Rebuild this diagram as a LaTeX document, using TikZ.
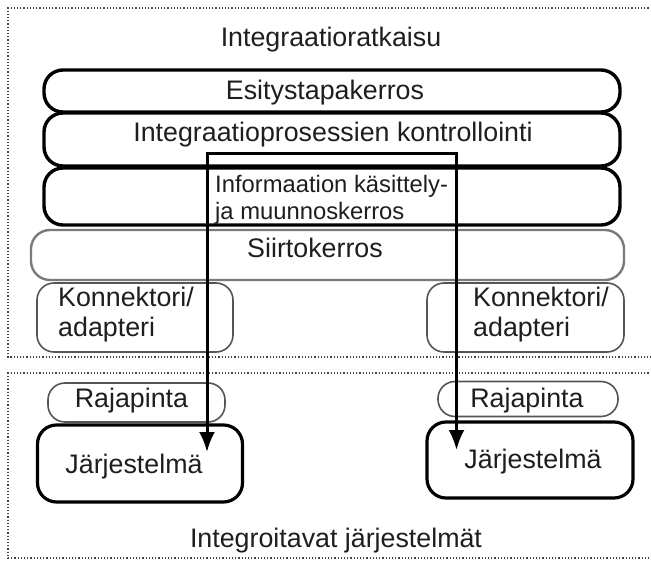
\documentclass[tikz,border=0pt]{standalone}
\usepackage{fontspec}
\setmainfont{Liberation Sans}
\usetikzlibrary{arrows.meta}

\definecolor{txt}{HTML}{1E1E1E}
\definecolor{softgray}{HTML}{7A7A7A}
\definecolor{midgray}{HTML}{555555}

\tikzset{
  frame/.style={draw=black!75, line width=1.2pt, dotted},
  boldbox/.style={draw=black, line width=3.4pt, rounded corners=19pt, inner sep=0pt},
  transportbox/.style={draw=softgray, line width=2.4pt, rounded corners=19pt, inner sep=0pt},
  thinbox/.style={draw=midgray, line width=1.6pt, rounded corners=17pt, inner sep=0pt},
  label/.style={text=txt, inner sep=0pt, font=\fontsize{26.8}{30}\selectfont},
  smalllabel/.style={text=txt, inner sep=0pt, font=\fontsize{23.8}{27}\selectfont},
  flow/.style={draw=black, line width=3pt, line join=miter,
    {Latex[length=20pt,width=16pt]}-{Latex[length=20pt,width=16pt]}}
}

\begin{document}
\begin{tikzpicture}[x=1pt,y=-1pt]
\useasboundingbox (0,0) rectangle (651,561);
\fill[white] (0,0) rectangle (651,561);

% dotted frames of the two areas, open to the right
\draw[frame] (655,8) -- (8,8) -- (8,357) -- (655,357);
\draw[frame] (655,373) -- (8,373) -- (8,558) -- (655,558);

% area titles
\node[label, anchor=base] (title) at (331,47) {Integraatioratkaisu};
\node[label, anchor=base] (subtitle) at (336,547) {Integroitavat järjestelmät};

% layer stack
\node[boldbox, minimum width=576pt, minimum height=42pt] (l1) at (332,91) {};
\node[boldbox, minimum width=576pt, minimum height=53pt] (l2) at (332,139.5) {};
\node[boldbox, minimum width=576pt, minimum height=57pt] (l3) at (332,196.5) {};
\node[transportbox, minimum width=593pt, minimum height=50pt] (l4) at (327.5,255) {};

\node[label, anchor=base] (t1) at (325,100) {Esitystapakerros};
\node[label, anchor=base] (t2) at (333,142) {Integraatioprosessien kontrollointi};
\node[smalllabel, anchor=base west, align=left] (t3a) at (215,193) {Informaation käsittely-};
\node[smalllabel, anchor=base west, align=left] (t3b) at (215,220) {ja muunnoskerros};
\node[label, anchor=base] (t4) at (315,258) {Siirtokerros};

% connectors / adapters
\node[thinbox, minimum width=196pt, minimum height=69pt] (kL) at (135,317.5) {};
\node[thinbox, minimum width=197pt, minimum height=69pt] (kR) at (525.5,317.5) {};
\node[label, anchor=base west] (kLa) at (58,307) {Konnektori/};
\node[label, anchor=base west] (kLb) at (58,337) {adapteri};
\node[label, anchor=base west] (kRa) at (473,307) {Konnektori/};
\node[label, anchor=base west] (kRb) at (473,337) {adapteri};

% integrated systems
\node[thinbox, minimum width=177pt, minimum height=39pt] (rL) at (136.5,402.5) {};
\node[thinbox, minimum width=180pt, minimum height=35pt] (rR) at (528,399) {};
\node[label, anchor=base] (rLt) at (131.5,408) {Rajapinta};
\node[label, anchor=base] (rRt) at (527,408) {Rajapinta};

\node[boldbox, line width=3.2pt, minimum width=205pt, minimum height=77pt] (sL) at (140,463.5) {};
\node[boldbox, line width=3.2pt, minimum width=206pt, minimum height=76pt] (sR) at (530,460) {};
\node[label, anchor=base] (sLt) at (134,473) {Järjestelmä};
\node[label, anchor=base] (sRt) at (533,468) {Järjestelmä};

% data flow between the two systems
\coordinate (aL) at (207,452);
\coordinate (cL) at (207,154);
\coordinate (cR) at (456.5,154);
\coordinate (aR) at (456.5,450);
\draw[flow] (aL) -- (cL) -- (cR) -- (aR);
\end{tikzpicture}
\end{document}
